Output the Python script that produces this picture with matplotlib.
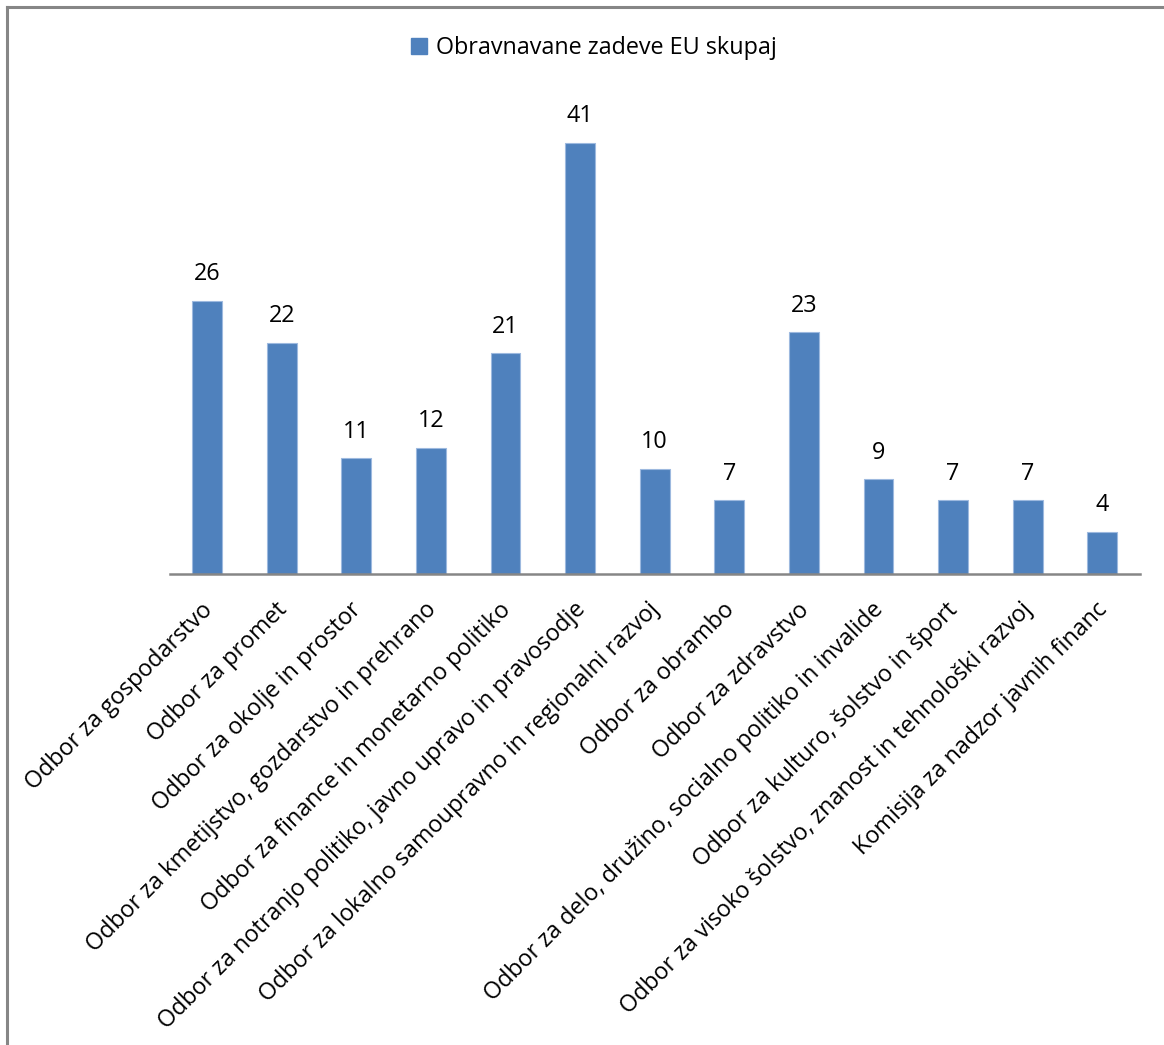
import matplotlib
matplotlib.use("Agg")
import matplotlib.pyplot as plt
import matplotlib.transforms as mtrans
from matplotlib.lines import Line2D
from matplotlib.patches import Patch

plt.rcParams['font.family'] = ['Open Sans', 'DejaVu Sans']

categories = [
    "Odbor za gospodarstvo",
    "Odbor za promet",
    "Odbor za okolje in prostor",
    "Odbor za kmetijstvo, gozdarstvo in prehrano",
    "Odbor za finance in monetarno politiko",
    "Odbor za notranjo politiko, javno upravo in pravosodje",
    "Odbor za lokalno samoupravno in regionalni razvoj",
    "Odbor za obrambo",
    "Odbor za zdravstvo",
    "Odbor za delo, družino, socialno politiko in invalide",
    "Odbor za kulturo, šolstvo in šport",
    "Odbor za visoko šolstvo, znanost in tehnološki razvoj",
    "Komisija za nadzor javnih financ",
]
values = [26, 22, 11, 12, 21, 41, 10, 7, 23, 9, 7, 7, 4]
series_name = "Obravnavane zadeve EU skupaj"

BAR = "#4F81BD"
AXIS = "#868686"
FS = 16.8

fig = plt.figure(figsize=(11.64, 10.45), dpi=100)
ax = fig.add_axes([0.146, 0.4507, 0.833, 0.4526])

x = range(len(categories))
ax.bar(x, values, width=0.4, color=BAR, edgecolor="#9DB9DF", linewidth=0.8)
for xi, v in zip(x, values):
    ax.text(xi, v + 1.4, str(v), ha="center", va="bottom", fontsize=FS)

ax.set_xlim(-0.5, len(categories) - 0.5)
ax.set_ylim(0, 45)
ax.set_yticks([])
ax.set_xticks(list(x))
ax.set_xticklabels(categories, rotation=45, ha="right", rotation_mode="anchor",
                   fontsize=FS)
ax.tick_params(axis="x", length=0, pad=15)
shift = mtrans.ScaledTranslation(-7 / 100, -3 / 100, fig.dpi_scale_trans)
for lab in ax.get_xticklabels():
    lab.set_transform(lab.get_transform() + shift)
for s in ("top", "right", "left"):
    ax.spines[s].set_visible(False)
ax.spines["bottom"].set_color(AXIS)
ax.spines["bottom"].set_linewidth(1.8)

fig.legend(handles=[Patch(color=BAR, label=series_name)], loc="center",
           bbox_to_anchor=(0.51, 0.954), frameon=False, fontsize=FS,
           handlelength=0.7, handleheight=0.7, handletextpad=0.35)

# chart frame (only top and left edges fall inside the image)
fig.add_artist(Line2D([0.0058, 0.0058], [0, 0.993], color=AXIS, lw=2.2,
                      transform=fig.transFigure))
fig.add_artist(Line2D([0.0058, 1], [0.993, 0.993], color=AXIS, lw=2.2,
                      transform=fig.transFigure))

fig.savefig("out.png", dpi=100, facecolor="white")
